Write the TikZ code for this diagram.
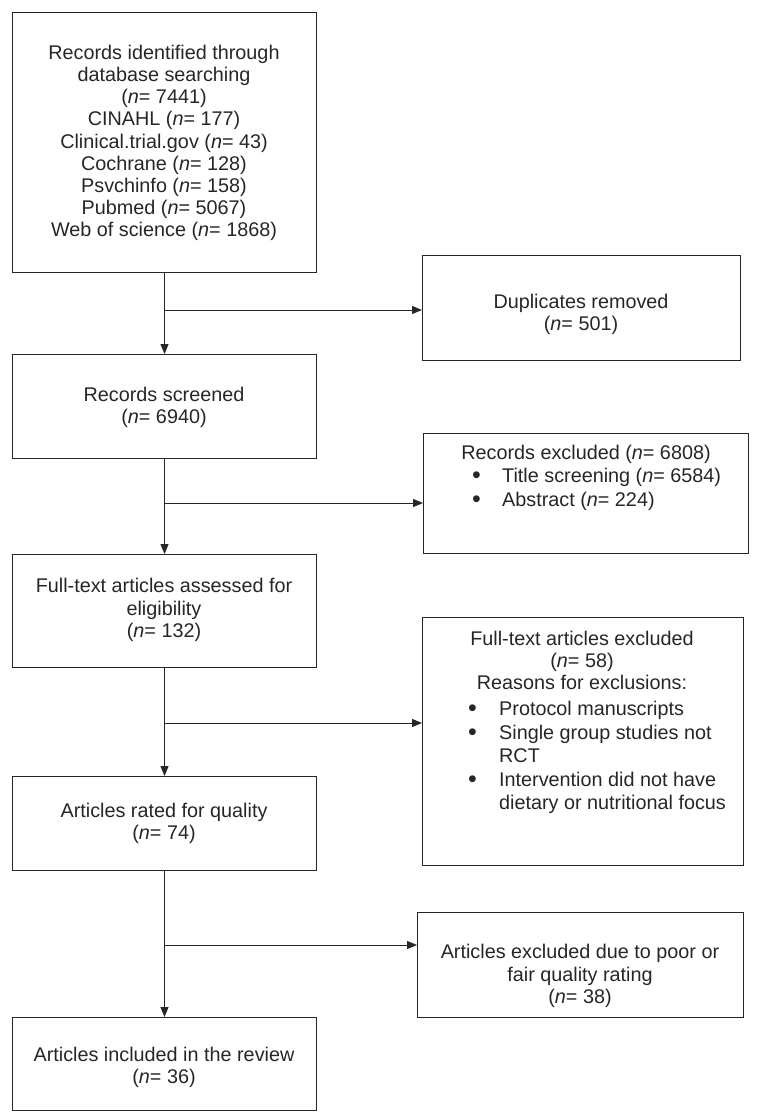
\documentclass[tikz,border=0pt]{standalone}
\usepackage{fontspec}
\setmainfont{Liberation Sans}
\usetikzlibrary{arrows.meta,positioning}

\tikzset{
  box/.style={draw=black!85, line width=1pt, inner sep=0pt, anchor=north west},
  txt/.style={align=center, inner sep=0pt, text=black!85, font=\fontsize{19.8}{22.2}\selectfont},
  lst/.style={align=left, inner sep=0pt, anchor=north west, text=black!85, font=\fontsize{19.8}{22.2}\selectfont},
  arr/.style={draw=black!85, line width=1pt, -{Triangle[length=10pt,width=8pt]}},
}
\newcommand{\nn}{\textit{n}}
\newcommand{\bul}{\raisebox{-1pt}{\fontsize{25}{22}\selectfont\textbullet}}

\begin{document}
\begin{tikzpicture}[x=1pt,y=-1pt]
\useasboundingbox (0,0) rectangle (757,1120);

% left column
\node[box, minimum width=304pt, minimum height=260pt] (ident)  at (12,12)   {};
\node[box, minimum width=304pt, minimum height=104pt] (screen) at (12,354)  {};
\node[box, minimum width=304pt, minimum height=113pt] (assess) at (12,554)  {};
\node[box, minimum width=304pt, minimum height=94pt]  (rated)  at (12,776)  {};
\node[box, minimum width=304pt, minimum height=93pt]  (incl)   at (12,1017) {};

% right column
\node[box, minimum width=318pt, minimum height=105pt] (dupl)    at (422,255) {};
\node[box, minimum width=325pt, minimum height=120pt] (recexc)  at (423,433) {};
\node[box, minimum width=321pt, minimum height=248pt] (ftexc)   at (422,617) {};
\node[box, minimum width=326pt, minimum height=105pt] (qualexc) at (417,912) {};

% texts
\node[txt] (identtxt) at (164,143) {Records identified through\\database searching\\(\nn= 7441)\\CINAHL (\nn= 177)\\Clinical.trial.gov (\nn= 43)\\Cochrane (\nn= 128)\\Psvchinfo (\nn= 158)\\Pubmed (\nn= 5067)\\Web of science (\nn= 1868)};
\node[txt] (screentxt) at (164,407)  {Records screened\\(\nn= 6940)};
\node[txt] (assesstxt) at (164,610)  {Full-text articles assessed for\\eligibility\\(\nn= 132)};
\node[txt] (ratedtxt)  at (164,823)  {Articles rated for quality\\(\nn= 74)};
\node[txt] (incltxt)   at (164,1067) {Articles included in the review\\(\nn= 36)};

\node[txt] (dupltxt) at (581,314) {Duplicates removed\\(\nn= 501)};
\node[txt, anchor=north] (recexch) at (586,445) {Records excluded (\nn= 6808)};
\node[lst] (recexcl) at (472,466) {\def\arraystretch{1.06}%
  \begin{tabular}{@{}p{30pt}@{}l@{}}
  \bul & Title screening (\nn= 6584)\\
  \bul & Abstract (\nn= 224)
  \end{tabular}};
\node[txt, anchor=north] (ftexch) at (582,631) {Full-text articles excluded\\(\nn= 58)\\Reasons for exclusions:};
\node[lst] (ftexcl) at (468,699) {\def\arraystretch{1.06}%
  \begin{tabular}{@{}p{31pt}@{}l@{}}
  \bul & Protocol manuscripts\\
  \bul & Single group studies not\\
       & RCT\\
  \bul & Intervention did not have\\
       & dietary or nutritional focus
  \end{tabular}};
\node[txt] (qualtxt) at (580,976) {Articles excluded due to poor or\\fair quality rating\\(\nn= 38)};

% connectors
\coordinate (b1) at (164,310);
\coordinate (b2) at (164,503);
\coordinate (b3) at (164,723);
\coordinate (b4) at (164,945);

\draw[arr] (ident.south)  -- (screen.north);
\draw[arr] (screen.south) -- (assess.north);
\draw[arr] (assess.south) -- (rated.north);
\draw[arr] (rated.south)  -- (incl.north);

\draw[arr] (b1) -- (b1 -| dupl.west);
\draw[arr] (b2) -- (b2 -| recexc.west);
\draw[arr] (b3) -- (b3 -| ftexc.west);
\draw[arr] (b4) -- (b4 -| qualexc.west);

\end{tikzpicture}
\end{document}
